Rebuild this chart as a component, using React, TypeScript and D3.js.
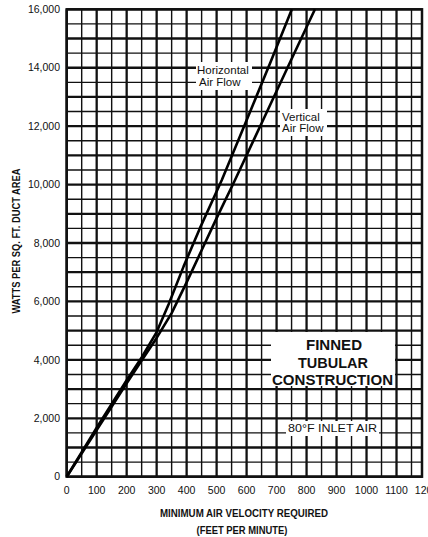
import React from "react";
import * as d3 from "d3";

// axis ticks
const xTickValues = [0, 100, 200, 300, 400, 500, 600, 700, 800, 900, 1000, 1100, 1200];
const yTickValues = [0, 2000, 4000, 6000, 8000, 10000, 12000, 14000, 16000];

// curves: velocity (fpm) vs watts per sq. ft.
const horizontalVel = [0, 100, 200, 250, 300, 340, 390, 444, 517, 600, 680, 751];
const horizontalWatts = [0, 1680, 3300, 4080, 4950, 5900, 7200, 8500, 10150, 12200, 14200, 16000];

const verticalVel = [0, 100, 200, 250, 300, 350, 400, 450, 500, 561, 650, 750, 828];
const verticalWatts = [0, 1600, 3200, 3980, 4750, 5600, 6650, 7750, 8850, 10150, 12100, 14300, 16000];

const W = 428;
const H = 537;
const left = 66.7, right = 422, top = 9.3, bottom = 476.7;
const font = "'Liberation Sans', Arial, Helvetica, sans-serif";

const App = () => {
  const x = d3.scaleLinear().domain([0, 1185]).range([left, right]);
  const y = d3.scaleLinear().domain([0, 16000]).range([bottom, top]);

  const vLines = d3.range(0, 1185, 50);
  const hLines = d3.range(0, 16001, 500);

  const line = d3.line<[number, number]>()
    .x(d => x(d[0]))
    .y(d => y(d[1]));

  const horiz = horizontalVel.map((v, i) => [v, horizontalWatts[i]] as [number, number]);
  const vert = verticalVel.map((v, i) => [v, verticalWatts[i]] as [number, number]);

  return (
    <svg width={W} height={H} style={{ position: "absolute", left: 0, top: 0, background: "#fff" }}
      fontFamily={font}>
      <rect x={0} y={0} width={W} height={H} fill="#fff" />
      {/* grid */}
      <g stroke="#111">
        {vLines.map(v => (
          <line key={"v" + v} x1={x(v)} x2={x(v)} y1={top} y2={bottom}
            strokeWidth={v % 100 === 0 ? 2.3 : 1.4} />
        ))}
        {hLines.map(w => (
          <line key={"h" + w} x1={left} x2={right} y1={y(w)} y2={y(w)}
            strokeWidth={w % 1000 === 0 ? 2.3 : 1.4} />
        ))}
        <rect x={left} y={top} width={right - left} height={bottom - top} fill="none" strokeWidth={2.5} />
      </g>

      {/* label boxes knock out the grid */}
      <g fill="#fff">
        <rect x={196} y={62} width={56} height={28} />
        <rect x={280} y={109} width={47} height={27} />
        <rect x={271} y={332} width={124} height={54} />
        <rect x={286} y={421} width={93} height={15} />
      </g>

      {/* curves */}
      <path d={line(horiz) ?? ""} fill="none" stroke="#000" strokeWidth={2.6} strokeLinejoin="round" />
      <path d={line(vert) ?? ""} fill="none" stroke="#000" strokeWidth={2.6} strokeLinejoin="round" />

      {/* tick labels */}
      <g fontSize={10.5} fill="#111">
        {yTickValues.map(w => (
          <text key={"yl" + w} x={60} y={y(w)} dy="0.35em" textAnchor="end">
            {d3.format(",")(w)}
          </text>
        ))}
        {xTickValues.map(v => (
          <text key={"xl" + v} x={x(v)} y={494} textAnchor="middle">{v}</text>
        ))}
      </g>

      {/* annotations */}
      <g fontSize={11.5} fill="#111">
        <text x={197} y={74}>Horizontal</text>
        <text x={199} y={86}>Air Flow</text>
        <text x={282} y={121}>Vertical</text>
        <text x={282} y={132}>Air Flow</text>
      </g>
      <g fontWeight="bold" fontSize={15.5} fill="#111" textAnchor="middle">
        <text x={334} y={350} textLength={56} lengthAdjust="spacingAndGlyphs">FINNED</text>
        <text x={333} y={367.5} textLength={70} lengthAdjust="spacingAndGlyphs">TUBULAR</text>
        <text x={332.5} y={385} textLength={121} lengthAdjust="spacingAndGlyphs">CONSTRUCTION</text>
      </g>
      <text x={332.5} y={432} fontSize={11} fill="#111" textAnchor="middle"
        textLength={89} lengthAdjust="spacingAndGlyphs">80°F INLET AIR</text>

      {/* axis titles */}
      <text x={244} y={517} fontSize={10} fontWeight="bold" fill="#111" textAnchor="middle"
        textLength={168} lengthAdjust="spacingAndGlyphs">MINIMUM AIR VELOCITY REQUIRED</text>
      <text x={242} y={534} fontSize={10} fontWeight="bold" fill="#111" textAnchor="middle"
        textLength={91} lengthAdjust="spacingAndGlyphs">(FEET PER MINUTE)</text>
      <text transform={`translate(20,241) rotate(-90)`} fontSize={10} fontWeight="bold" fill="#111"
        textAnchor="middle" textLength={145} lengthAdjust="spacingAndGlyphs">
        WATTS PER SQ. FT. DUCT AREA
      </text>
    </svg>
  );
};

export default App;
